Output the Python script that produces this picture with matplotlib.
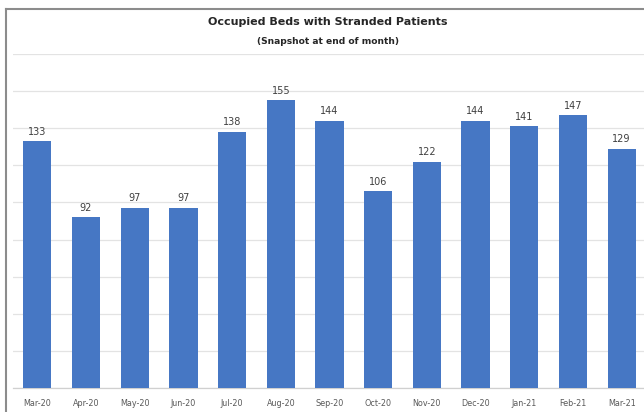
import numpy as np
import matplotlib.pyplot as plt
from matplotlib.lines import Line2D

# Lits occupés par des patients "stranded", relevé fin de mois
mois = ['Mar-20', 'Apr-20', 'May-20', 'Jun-20', 'Jul-20', 'Aug-20', 'Sep-20',
        'Oct-20', 'Nov-20', 'Dec-20', 'Jan-21', 'Feb-21', 'Mar-21']
lits = [133, 92, 97, 97, 138, 155, 144, 106, 122, 144, 141, 147, 129]

fig = plt.figure(figsize=(6.44, 4.12), dpi=100)
fig.patch.set_facecolor('white')

# zone de tracé (la partie droite du graphique déborde du cadre)
ax = fig.add_axes([13 / 644, 1 - 388 / 412, 633 / 644, (388 - 54) / 412])

x = np.arange(len(mois))
barres = ax.bar(x, lits, width=0.58, color='#4677C4', zorder=3)

for xi, v in zip(x, lits):
    ax.text(xi, v + 2.5, str(v), ha='center', va='bottom', fontsize=7, color='#404040')

ax.set_xlim(-0.5, len(mois) - 0.5)
ax.set_ylim(0, 180)
ax.set_yticks(np.arange(0, 181, 20))
ax.yaxis.grid(True, color='#e3e3e3', linewidth=0.9, zorder=0)
ax.tick_params(axis='y', left=False, labelleft=False)
ax.tick_params(axis='x', length=0, pad=8, labelsize=5.8, labelcolor='#595959')
ax.set_xticks(x)
ax.set_xticklabels(mois)
for s in ['top', 'right', 'left']:
    ax.spines[s].set_visible(False)
ax.spines['bottom'].set_color('#d0d0d0')
ax.spines['bottom'].set_linewidth(0.9)

# titres
fig.text(328 / 644, 1 - 22 / 412, 'Occupied Beds with Stranded Patients',
         ha='center', va='center', fontsize=8, fontweight='bold', color='#262626')
fig.text(328 / 644, 1 - 42 / 412, '(Snapshot at end of month)',
         ha='center', va='center', fontsize=6.6, fontweight='bold', color='#262626')

# cadre du graphique
fig.add_artist(Line2D([6 / 644, 1], [1 - 9 / 412, 1 - 9 / 412], color='#8c8c8c', linewidth=1.5))
fig.add_artist(Line2D([6 / 644, 6 / 644], [0, 1 - 9 / 412], color='#8c8c8c', linewidth=1.5))

fig.savefig('out.png', dpi=100)
